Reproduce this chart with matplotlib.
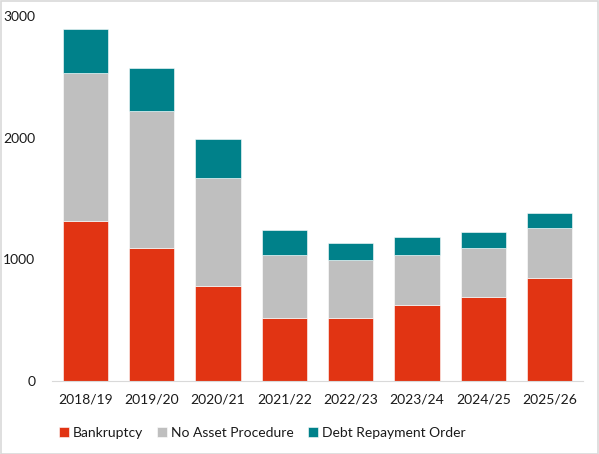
import numpy as np
import matplotlib.pyplot as plt

years = ['2018/19', '2019/20', '2020/21', '2021/22', '2022/23', '2023/24', '2024/25', '2025/26']
bankruptcy = [1315, 1093, 778, 520, 518, 622, 690, 847]
no_asset = [1214, 1124, 890, 516, 476, 411, 406, 411]
debt_repayment = [362, 356, 319, 205, 140, 151, 129, 123]

plt.rcParams['font.family'] = ['Lato', 'DejaVu Sans']

fig = plt.figure(figsize=(5.99, 4.54), dpi=100)
fig.patches.append(plt.Rectangle((0.001, 0.001), 0.997, 0.997, transform=fig.transFigure,
                                 fill=False, edgecolor='#d9d9d9', linewidth=1.2))
ax = fig.add_axes([0.0868, 0.1608, 0.8865, 0.804])

x = np.arange(len(years))
b = np.array(bankruptcy)
n = np.array(no_asset)
d = np.array(debt_repayment)
w = 0.68
ax.bar(x, b, w, color='#e13413', edgecolor='white', linewidth=0.4, label='Bankruptcy')
ax.bar(x, n, w, bottom=b, color='#bfbfbf', edgecolor='white', linewidth=0.4, label='No Asset Procedure')
ax.bar(x, d, w, bottom=b + n, color='#00818a', edgecolor='white', linewidth=0.4, label='Debt Repayment Order')

ax.set_xlim(-0.5, 7.5)
ax.set_ylim(0, 3000)
ax.set_yticks([0, 1000, 2000, 3000])
ax.set_xticks(x)
ax.set_xticklabels(years)
for s in ['top', 'right', 'left']:
    ax.spines[s].set_visible(False)
ax.spines['bottom'].set_color('#d9d9d9')
ax.tick_params(axis='both', length=0, labelsize=10, colors='#1a1a1a')
ax.tick_params(axis='y', pad=12)
ax.tick_params(axis='x', pad=9)

fig.legend(loc='center', bbox_to_anchor=(0.438, 0.046), ncol=3, frameon=False, fontsize=10,
           handlelength=0.7, handleheight=0.7, handletextpad=0.3, columnspacing=1.0,
           labelcolor='#1a1a1a')

fig.savefig('out.png', dpi=100)
